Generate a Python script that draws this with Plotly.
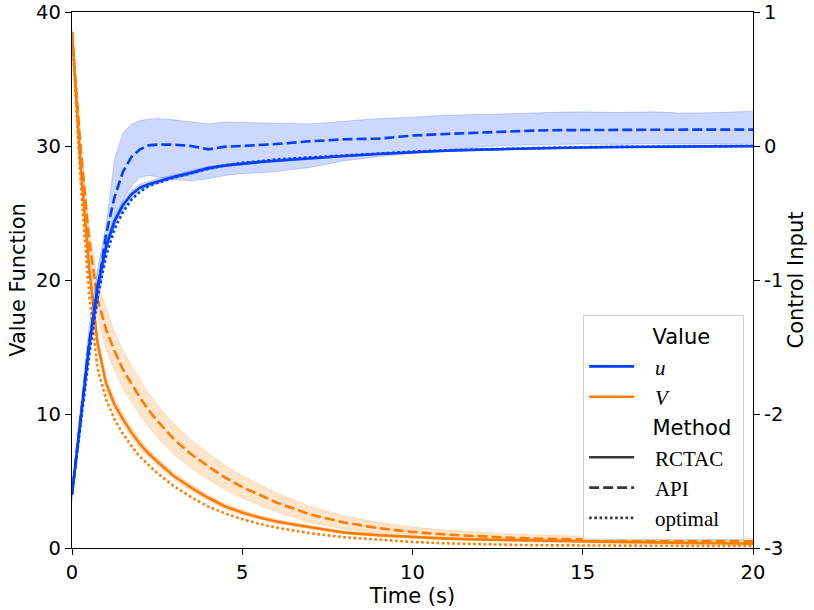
import plotly.graph_objects as go

# ---------------- data ----------------
t = [0, 0.25, 0.5, 0.75, 1, 1.25, 1.5, 1.75, 2, 2.25, 2.5, 3, 3.5, 4, 4.5, 5, 5.5, 6,
     7, 8, 9, 10, 11, 12, 13, 14, 15, 16, 17, 18, 19, 20]

# control input u (right axis)
u_rctac = [-2.60, -2.05, -1.50, -1.05, -0.75, -0.56, -0.44, -0.36, -0.31, -0.285, -0.265, -0.23,
           -0.20, -0.165, -0.145, -0.13, -0.12, -0.11, -0.09, -0.075, -0.06, -0.045, -0.035,
           -0.027, -0.02, -0.015, -0.011, -0.008, -0.006, -0.004, -0.002, -0.001]
u_rctac_hw = [0.02, 0.03, 0.04, 0.04, 0.04, 0.035, 0.03, 0.03, 0.025, 0.02, 0.02, 0.015,
              0.015, 0.012, 0.01, 0.01, 0.01, 0.008, 0.008, 0.006, 0.006, 0.005, 0.005,
              0.005, 0.004, 0.004, 0.004, 0.004, 0.004, 0.004, 0.004, 0.004]
u_opt = [-2.60, -2.09, -1.57, -1.13, -0.82, -0.62, -0.49, -0.40, -0.34, -0.30, -0.275, -0.235,
         -0.20, -0.17, -0.145, -0.125, -0.115, -0.10, -0.085, -0.07, -0.055, -0.042, -0.032,
         -0.024, -0.018, -0.013, -0.009, -0.006, -0.004, -0.002, -0.001, 0.0]
u_api = [-2.60, -2.03, -1.47, -1.08, -0.66, -0.38, -0.19, -0.08, -0.025, 0.005, 0.01, 0.01,
         0.0, -0.025, -0.005, 0.0, 0.005, 0.015, 0.035, 0.05, 0.055, 0.078, 0.09, 0.102,
         0.11, 0.118, 0.12, 0.121, 0.122, 0.122, 0.122, 0.122]
u_api_hi = [-2.55, -1.96, -1.36, -0.92, -0.60, -0.10, 0.10, 0.16, 0.19, 0.20, 0.205, 0.195,
            0.18, 0.165, 0.18, 0.175, 0.17, 0.17, 0.165, 0.185, 0.205, 0.215, 0.23, 0.235,
            0.245, 0.25, 0.255, 0.25, 0.255, 0.245, 0.25, 0.26]
u_api_lo = [-2.65, -2.10, -1.56, -1.20, -0.80, -0.58, -0.40, -0.30, -0.235, -0.22, -0.23,
            -0.25, -0.26, -0.245, -0.22, -0.205, -0.20, -0.19, -0.16, -0.11, -0.08, -0.055,
            -0.03, -0.005, 0.005, 0.01, 0.015, 0.012, 0.018, 0.015, 0.018, 0.02]

# value function V (left axis)
V_rctac = [38.5, 28.6, 21.0, 15.3, 12.3, 10.7, 9.6, 8.6, 7.75, 7.05, 6.45, 5.35, 4.5, 3.75,
           3.1, 2.65, 2.28, 1.98, 1.55, 1.15, 0.95, 0.8, 0.7, 0.63, 0.58, 0.53, 0.48, 0.44,
           0.41, 0.38, 0.35, 0.33]
V_rctac_hw = [0.2, 0.4, 0.5, 0.5, 0.45, 0.4, 0.4, 0.35, 0.35, 0.3, 0.3, 0.25, 0.25, 0.2,
              0.2, 0.18, 0.15, 0.15, 0.12, 0.1, 0.1, 0.08, 0.08, 0.07, 0.07, 0.06, 0.06,
              0.06, 0.05, 0.05, 0.05, 0.05]
V_opt = [38.5, 27.5, 19.0, 13.4, 11.1, 9.6, 8.5, 7.6, 6.8, 6.2, 5.6, 4.6, 3.8, 3.1, 2.58,
         2.15, 1.8, 1.52, 1.1, 0.8, 0.6, 0.45, 0.35, 0.28, 0.23, 0.2, 0.18, 0.17, 0.16,
         0.155, 0.15, 0.15]
V_api = [38.5, 30.0, 23.0, 18.6, 16.3, 14.7, 13.3, 12.2, 11.2, 10.3, 9.5, 8.1, 7.0, 6.1,
         5.25, 4.55, 3.95, 3.4, 2.5, 1.9, 1.48, 1.2, 1.0, 0.85, 0.75, 0.68, 0.62, 0.58,
         0.55, 0.53, 0.51, 0.5]
V_api_hw = [0.3, 0.6, 1.0, 1.4, 1.5, 1.45, 1.4, 1.35, 1.3, 1.25, 1.2, 1.15, 1.05, 0.98,
            0.9, 0.83, 0.76, 0.7, 0.6, 0.5, 0.42, 0.36, 0.32, 0.3, 0.28, 0.27, 0.26, 0.25,
            0.25, 0.24, 0.24, 0.24]

left_ticks = [0, 10, 20, 30, 40]
right_ticks = [-3, -2, -1, 0, 1]
right_ticktext = ["-3", "-2", "-1", "0", "1"]
x_ticks = [0, 5, 10, 15, 20]

# ---------------- styling ----------------
BLUE = "#023eff"
ORANGE = "#ff7c00"
BLUE_FILL = "rgba(2,62,255,0.2)"
ORANGE_FILL = "rgba(255,124,0,0.2)"
GREY = "#3a3a3a"
LW = 2.6
DASH = "10px,4px"
DOT = "2.6px,2.6px"
FONT = "DejaVu Sans"
TICK_SIZE = 19.5
LABEL_SIZE = 21

fig = go.Figure()


def band(x, lo, hi, fill, yaxis):
    fig.add_trace(go.Scatter(x=x, y=lo, mode="lines", line=dict(color=fill, width=1),
                             showlegend=False, hoverinfo="skip", yaxis=yaxis))
    fig.add_trace(go.Scatter(x=x, y=hi, mode="lines", line=dict(color=fill, width=1),
                             fill="tonexty", fillcolor=fill, showlegend=False,
                             hoverinfo="skip", yaxis=yaxis))


# bands
band(t, [a - b for a, b in zip(u_rctac, u_rctac_hw)],
     [a + b for a, b in zip(u_rctac, u_rctac_hw)], BLUE_FILL, "y2")
band(t, u_api_lo, u_api_hi, BLUE_FILL, "y2")
band(t, [a - b for a, b in zip(V_rctac, V_rctac_hw)],
     [a + b for a, b in zip(V_rctac, V_rctac_hw)], ORANGE_FILL, "y")
band(t, [a - b for a, b in zip(V_api, V_api_hw)],
     [a + b for a, b in zip(V_api, V_api_hw)], ORANGE_FILL, "y")

# lines
for ys, dash in ((u_rctac, "solid"), (u_api, DASH), (u_opt, DOT)):
    fig.add_trace(go.Scatter(x=t, y=ys, mode="lines", yaxis="y2", showlegend=False,
                             line=dict(color=BLUE, width=LW, dash=dash)))
for ys, dash in ((V_rctac, "solid"), (V_api, DASH), (V_opt, DOT)):
    fig.add_trace(go.Scatter(x=t, y=ys, mode="lines", yaxis="y", showlegend=False,
                             line=dict(color=ORANGE, width=LW, dash=dash)))


# legend entries
def leg(name, color, dash="solid"):
    fig.add_trace(go.Scatter(x=[None], y=[None], mode="lines", name=name,
                             line=dict(color=color, width=LW, dash=dash)))


PAD = "&nbsp;&nbsp;&nbsp;"
hdr = "<span style='font-family:DejaVu Sans;font-size:21px'>&nbsp;&nbsp;%s&nbsp;</span>"
leg(hdr % "Value", "rgba(0,0,0,0)")
leg(PAD + "<i>u</i>", BLUE)
leg(PAD + "<i>V</i>", ORANGE)
leg(hdr % "Method", "rgba(0,0,0,0)")
leg(PAD + "RCTAC", GREY)
leg(PAD + "API", GREY, DASH)
leg(PAD + "optimal", GREY, DOT)

axis_common = dict(showgrid=False, zeroline=False, showline=True, linecolor="black",
                   linewidth=1.3, ticks="outside", ticklen=6, tickwidth=1.3,
                   tickcolor="black", automargin=False,
                   tickfont=dict(family=FONT, size=TICK_SIZE, color="black"))

fig.update_layout(
    width=814, height=610,
    margin=dict(l=72, r=61, t=12, b=62, autoexpand=False),
    plot_bgcolor="white", paper_bgcolor="white",
    font=dict(family=FONT, size=TICK_SIZE, color="black"),
    xaxis=dict(range=[0, 20], tickvals=x_ticks, mirror=True,
               title=dict(text="Time (s)", font=dict(family=FONT, size=LABEL_SIZE), standoff=2),
               **axis_common),
    yaxis=dict(range=[0, 40], tickvals=left_ticks,
               title=dict(text="Value Function", font=dict(family=FONT, size=LABEL_SIZE),
                          standoff=4),
               **axis_common),
    yaxis2=dict(range=[-3, 1], tickvals=right_ticks, ticktext=right_ticktext,
                overlaying="y", side="right",
                title=dict(text="Control Input", font=dict(family=FONT, size=LABEL_SIZE),
                           standoff=4),
                **axis_common),
    legend=dict(x=0.987, y=0.015, xanchor="right", yanchor="bottom",
                bgcolor="rgba(255,255,255,0.85)", bordercolor="#d0d0d0", borderwidth=1,
                font=dict(family="Liberation Serif", size=21, color="black"),
                itemwidth=45, traceorder="normal"),
)

fig.write_html("out.html", config={"displayModeBar": False},
               post_script="document.body.style.margin='0';document.body.style.padding='0';")
